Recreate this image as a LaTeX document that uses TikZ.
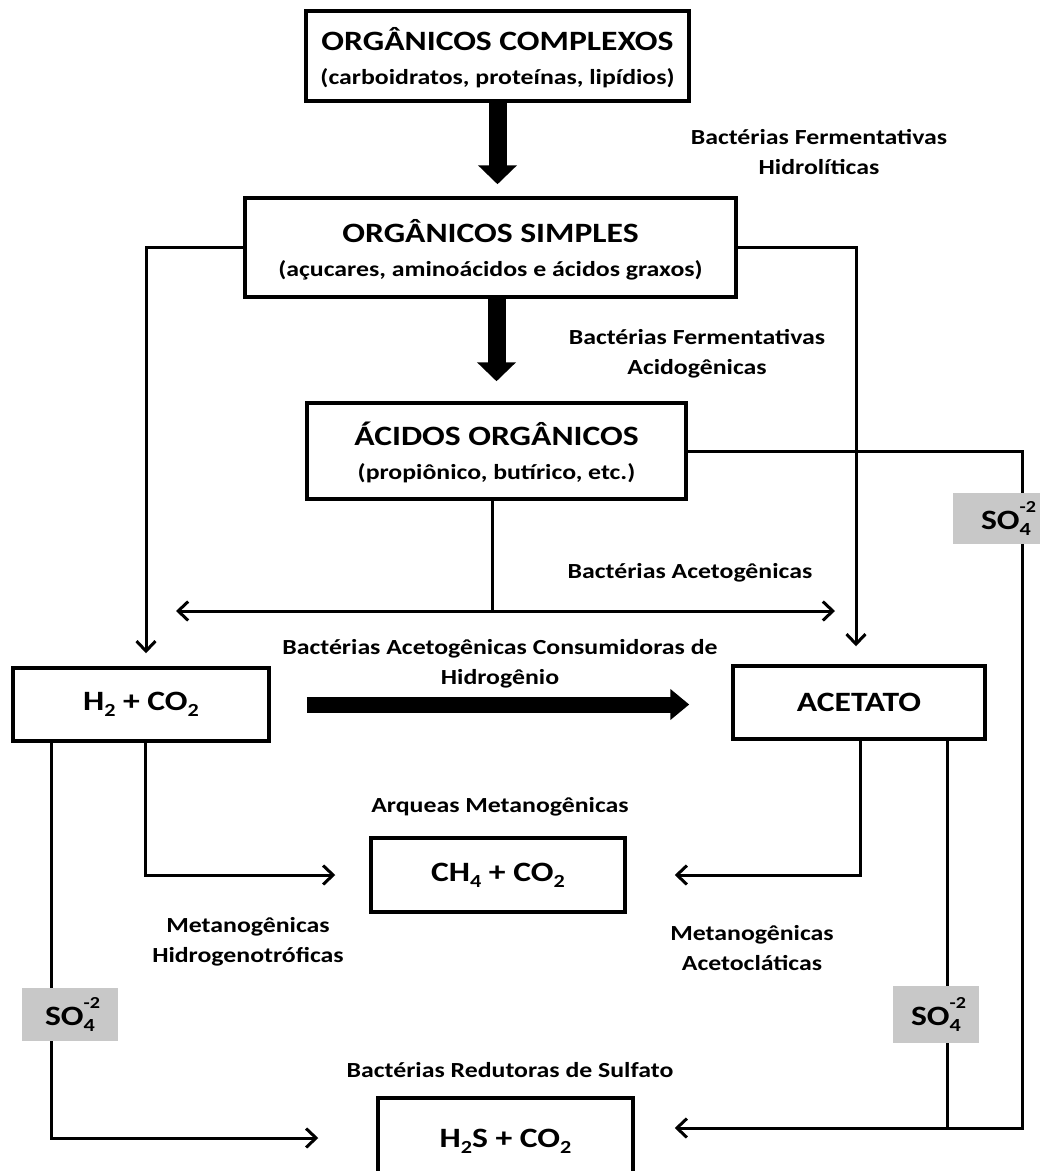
\documentclass[tikz,border=0pt]{standalone}
\usepackage{fontspec}
\setmainfont{Carlito}[FakeStretch=1.2]
\usetikzlibrary{arrows.meta}
\definecolor{sogray}{RGB}{200,200,200}
\newcommand\fT{\fontsize{28}{34}\selectfont}
\newcommand\fS{\fontsize{21.5}{34}\selectfont}
\newcommand\lo[1]{\raisebox{-0.22em}{\scalebox{0.66}{#1}}}
\newcommand\sofour{SO\rlap{\raisebox{0.62em}{\scalebox{0.6}{-2}}}\raisebox{-0.22em}{\scalebox{0.66}{4}}}
\begin{document}
\begin{tikzpicture}[x=1pt,y=-1pt,
  box/.style={draw, line width=3.5pt, inner sep=0pt, align=center, font=\bfseries\fT},
  lab/.style={inner sep=0pt, align=center, font=\bfseries\fontsize{21.5}{29.5}\selectfont},
  sob/.style={fill=sogray, inner sep=0pt, font=\bfseries\fT},
  line/.style={line width=3pt},
  conn/.style={line width=3pt, -{Straight Barb[length=10pt,width=19pt]}},
  dbl/.style={line width=3pt, {Straight Barb[length=10pt,width=19pt]}-{Straight Barb[length=10pt,width=19pt]}},
  bigv/.style={line width=18pt, -{Triangle[length=19pt,width=38pt]}},
  bigh/.style={line width=16pt, -{Triangle[length=19pt,width=30pt]}}]
\clip (0,0) rectangle (1040,1171);
\fill[white] (0,0) rectangle (1040,1171);

% boxes
\node[box, minimum width=383pt, minimum height=90pt, text depth=0pt] (b1) at (497.5,56)
  {ORGÂNICOS COMPLEXOS\\\fS (carboidratos, proteínas, lipídios)};
\node[box, minimum width=491pt, minimum height=99pt, text depth=0pt] (b2) at (490.5,247.5)
  {ORGÂNICOS SIMPLES\\\fS (açucares, aminoácidos e ácidos graxos)};
\node[box, minimum width=379pt, minimum height=96pt, text depth=0pt] (b3) at (496.5,451)
  {ÁCIDOS ORGÂNICOS\\\fS (propiônico, butírico, etc.)};
\node[box, minimum width=256pt, minimum height=73pt] (h2) at (141,704.5)
  {H\lo{2} + CO\lo{2}};
\node[box, minimum width=252pt, minimum height=73pt] (ac) at (859,702.5)
  {ACETATO};
\node[box, minimum width=254pt, minimum height=74pt] (ch) at (498,875)
  {CH\lo{4} + CO\lo{2}};
\node[box, minimum width=255pt, minimum height=80pt, text depth=0pt] (hs) at (505.5,1138)
  {H\lo{2}S + CO\lo{2}};

% labels
\node[lab] (l1) at (819,152) {Bactérias Fermentativas\\Hidrolíticas};
\node[lab] (l2) at (697,354) {Bactérias Fermentativas\\Acidogênicas};
\node[lab] (l3) at (690,573) {Bactérias Acetogênicas};
\node[lab] (l4) at (500,664) {Bactérias Acetogênicas Consumidoras de\\Hidrogênio};
\node[lab] (l5) at (500,807) {Arqueas Metanogênicas};
\node[lab] (l6) at (248,942) {Metanogênicas\\Hidrogenotróficas};
\node[lab] (l7) at (752,948) {Metanogênicas\\Acetocláticas};
\node[lab] (l8) at (510,1070) {Bactérias Redutoras de Sulfato};

% helper coordinates
\coordinate (xL) at (146,0);
\coordinate (xR) at (856,0);
\coordinate (xJ) at (492,0);
\coordinate (yJ) at (0,611);
\coordinate (dl) at (176,611);
\coordinate (dr) at (835,611);
\coordinate (xO) at (1022,0);
\coordinate (yH) at (0,1128);
\coordinate (xA2) at (947,0);
\coordinate (xA1) at (860,0);
\coordinate (yC) at (0,875);
\coordinate (xH1) at (145,0);
\coordinate (xH0) at (51,0);
\coordinate (yL) at (0,1138);

% thick arrows
\draw[bigv, shorten >=12pt] (b1.south) -- (b1.south |- b2.north);
\draw[bigv, shorten >=20pt] (b3.north |- b2.south) -- (b3.north);
\draw[bigh, shorten <=36pt, shorten >=42pt] (h2.east) -- (h2.east -| ac.west);

% thin connectors
\draw[conn, shorten >=13pt] (b2.west) -| (h2.north -| xL);
\draw[conn, shorten >=18pt] (b2.east) -| (ac.north -| xR);
\draw[line] (b3.south -| xJ) -- (xJ |- yJ);
\draw[dbl] (dl) -- (dr);
\draw[conn, shorten >=40pt] (b3.east) -| (xO |- yH) -- (hs.east |- yH);
\draw[line] (ac.south -| xA2) -- (xA2 |- yH);
\draw[conn, shorten >=48pt] (ac.south -| xA1) |- (ch.east |- yC);
\draw[conn, shorten >=34pt] (h2.south -| xH1) |- (ch.west |- yC);
\draw[conn, shorten >=58pt] (h2.south -| xH0) |- (hs.west |- yL);

% sulfate tags
\node[sob, minimum width=106pt, minimum height=51pt] (s1) at (1006,518.5) {\sofour};
\node[sob, minimum width=96pt, minimum height=53pt] (s2) at (70,1014.5) {\sofour};
\node[sob, minimum width=86pt, minimum height=57pt] (s3) at (936,1014.5) {\sofour};
\end{tikzpicture}
\end{document}
